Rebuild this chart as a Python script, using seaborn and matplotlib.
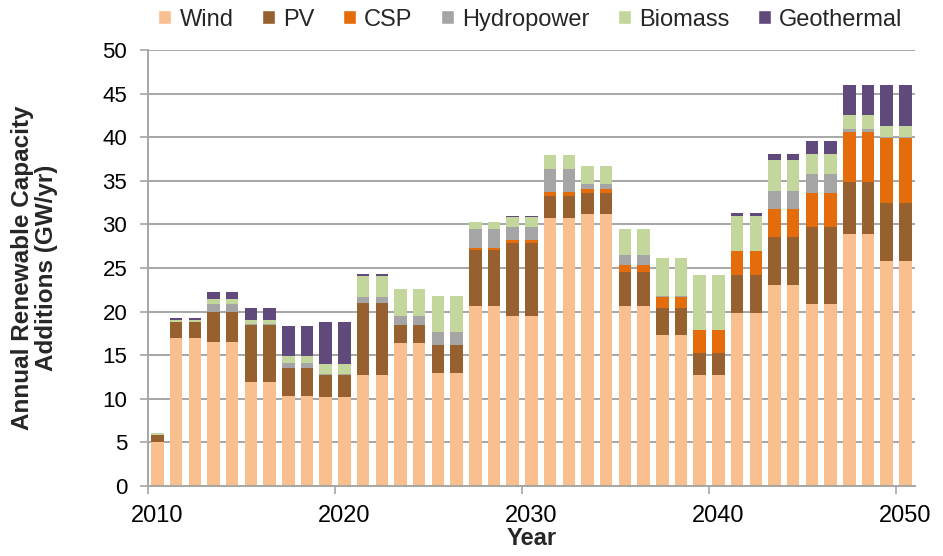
import numpy as np
import pandas as pd
import matplotlib
matplotlib.use("Agg")
import matplotlib.pyplot as plt
import seaborn as sns
from matplotlib.patches import Patch

# yıllar ve kaynaklar
years = list(range(2010, 2051))
sources = ['Wind', 'PV', 'CSP', 'Hydropower', 'Biomass', 'Geothermal']
colors = ['#F9BF8F', '#97602F', '#E46C0A', '#A5A5A5', '#C3D69B', '#604A7B']
year_labels = ['2010', '2020', '2030', '2040', '2050']

# değerler (GW/yr), iki yıllık dönemler halinde okunmuştur
wind = [5.0, 17.0, 17.0, 16.5, 16.5, 11.9, 11.9, 10.35, 10.35, 10.25, 10.25,
        12.7, 12.7, 16.4, 16.4, 13.0, 13.0, 20.6, 20.6, 19.5, 19.5,
        30.7, 30.7, 31.2, 31.2, 20.6, 20.6, 17.3, 17.3, 12.7, 12.7,
        19.8, 19.8, 23.0, 23.0, 20.9, 20.9, 28.95, 28.95, 25.75, 25.75]
pv = [0.8, 1.75, 1.75, 3.5, 3.5, 6.6, 6.6, 3.15, 3.15, 2.5, 2.5,
      8.25, 8.25, 2.1, 2.1, 3.2, 3.2, 6.5, 6.5, 8.35, 8.35,
      2.6, 2.6, 2.35, 2.35, 3.95, 3.95, 3.1, 3.1, 2.5, 2.5,
      4.4, 4.4, 5.55, 5.55, 8.8, 8.8, 5.9, 5.9, 6.7, 6.7]
csp = [0, 0, 0, 0, 0, 0, 0, 0, 0, 0, 0,
       0, 0, 0, 0, 0, 0, 0.2, 0.2, 0.4, 0.4,
       0.45, 0.45, 0.55, 0.55, 0.85, 0.85, 1.25, 1.25, 2.7, 2.7,
       2.7, 2.7, 3.25, 3.25, 3.85, 3.85, 5.7, 5.7, 7.5, 7.5]
hydro = [0, 0.1, 0.1, 0.85, 0.85, 0.1, 0.1, 0.55, 0.55, 0.1, 0.1,
         0.75, 0.75, 1.05, 1.05, 1.45, 1.45, 2.2, 2.2, 1.4, 1.4,
         2.6, 2.6, 0.5, 0.5, 1.05, 1.05, 0.15, 0.15, 0, 0,
         0.1, 0.1, 2.0, 2.0, 2.2, 2.2, 0.45, 0.45, 0.05, 0.05]
biomass = [0.3, 0.2, 0.2, 0.6, 0.6, 0.4, 0.4, 0.9, 0.9, 1.1, 1.1,
           2.4, 2.4, 3.05, 3.05, 4.15, 4.15, 0.75, 0.75, 1.15, 1.15,
           1.6, 1.6, 2.05, 2.05, 3.05, 3.05, 4.35, 4.35, 6.3, 6.3,
           4.0, 4.0, 3.55, 3.55, 2.35, 2.35, 1.55, 1.55, 1.25, 1.25]
geo = [0, 0.25, 0.25, 0.75, 0.75, 1.45, 1.45, 3.4, 3.4, 4.9, 4.9,
       0.2, 0.2, 0, 0, 0, 0, 0, 0, 0.2, 0.2,
       0, 0, 0, 0, 0, 0, 0, 0, 0, 0,
       0.3, 0.3, 0.7, 0.7, 1.45, 1.45, 3.4, 3.4, 4.7, 4.7]

values = [wind, pv, csp, hydro, biomass, geo]
df = pd.concat([pd.DataFrame({'Year': years, 'Source': s, 'GW': v})
                for s, v in zip(sources, values)], ignore_index=True)

sns.set_style('white')
plt.rcParams['font.family'] = ['Liberation Sans', 'DejaVu Sans']

fig = plt.figure(figsize=(9.43, 5.56), dpi=100)
ax = fig.add_axes([0.157, 0.126, 0.813, 0.784])

# seaborn: ilk hue en üstte istiflenir, bu yüzden sırayı ters veriyoruz
sns.histplot(data=df, x='Year', weights='GW', hue='Source',
             hue_order=sources[::-1], palette=colors[::-1],
             multiple='stack', binwidth=1, binrange=(2010, 2051),
             shrink=0.67, alpha=1, linewidth=0, legend=False, ax=ax)

ax.set_xlim(2010, 2051)
ax.set_ylim(0, 50)
ax.set_yticks(range(0, 51, 5))
# Excel tarzı: çentikler kategori sınırında, etiketler kategori ortasında
ax.set_xticks([int(y) + 0.5 for y in year_labels])
ax.set_xticklabels(year_labels)
ax.set_xticks([int(y) for y in year_labels], minor=True)
ax.yaxis.grid(True, color='#A6A6A6', linewidth=1.4)
ax.set_axisbelow(True)
for side in ['top', 'right']:
    ax.spines[side].set_visible(False)
for side in ['left', 'bottom']:
    ax.spines[side].set_color('#A6A6A6')
    ax.spines[side].set_linewidth(1.4)
ax.tick_params(axis='y', labelsize=16, colors='#A6A6A6', labelcolor='black',
               length=6, width=1.2, direction='out', left=True, pad=9)
ax.tick_params(axis='x', which='major', labelsize=17, labelcolor='black',
               length=0, pad=14)
ax.tick_params(axis='x', which='minor', colors='#A6A6A6', length=6,
               width=1.2, direction='out', bottom=True)

ax.set_xlabel('Year', fontsize=17, fontweight='bold', labelpad=0)
ax.set_ylabel('Annual Renewable Capacity\nAdditions (GW/yr)', fontsize=17.5,
              fontweight='bold', labelpad=32, linespacing=1.05)

handles = [Patch(facecolor=c, label=s) for s, c in zip(sources, colors)]
ax.legend(handles=handles, loc='upper center', bbox_to_anchor=(0.5625, 0.993),
          bbox_transform=fig.transFigure, ncol=6, frameon=False, fontsize=17,
          handlelength=0.55, handleheight=0.55, handletextpad=0.35,
          columnspacing=1.2, borderaxespad=0.1, borderpad=0.1)

plt.savefig('out.png', dpi=100)
